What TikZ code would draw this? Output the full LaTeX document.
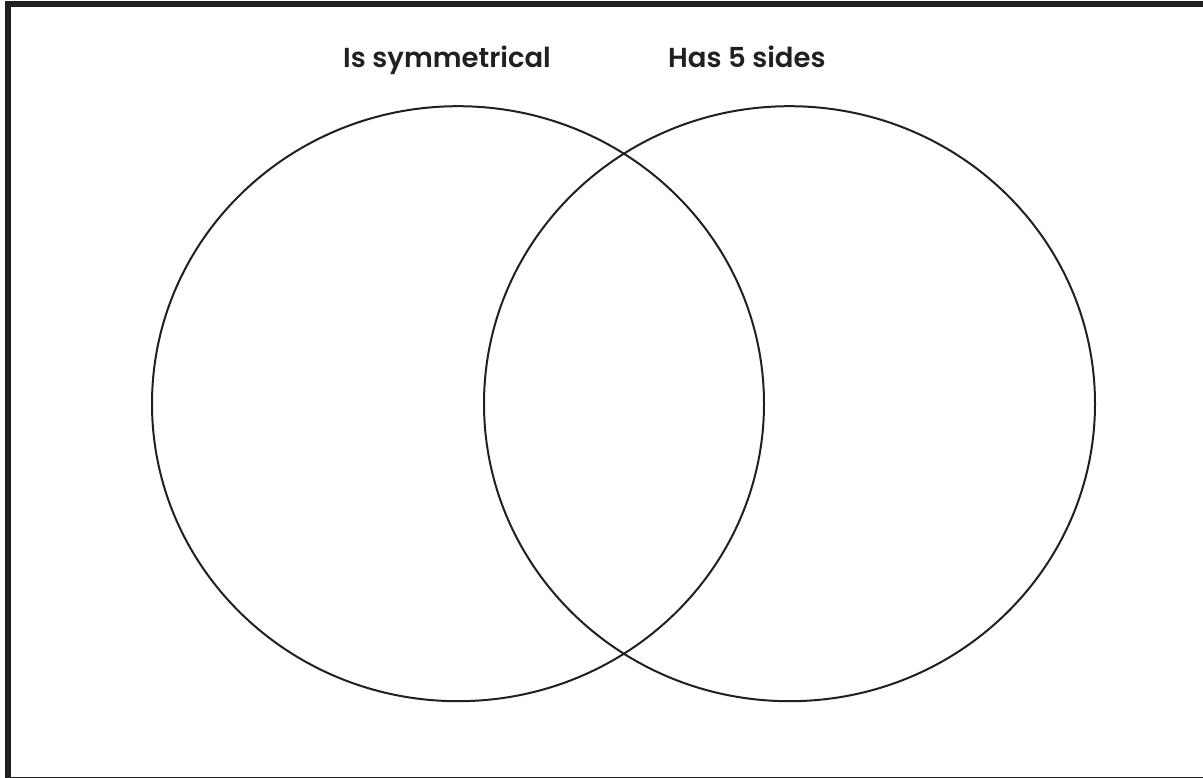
\documentclass[tikz,border=0pt]{standalone}
\usepackage{fontspec}
\newfontfamily\labfont{Poppins}[UprightFont={* SemiBold}]
\definecolor{ink}{HTML}{231F20}
\begin{document}
\begin{tikzpicture}[x=1pt,y=-1pt,
  frame/.style={draw=ink,line width=6pt},
  setcircle/.style={draw=ink,line width=2pt},
  settitle/.style={font=\labfont\fontsize{27.5}{32}\selectfont,text=ink,anchor=base west,inner sep=0pt}]
\useasboundingbox (0,0) rectangle (1203,778);
\draw[frame] (8,4.5) rectangle (1206,780);
\draw[setcircle] (458,403.7) ellipse [x radius=306, y radius=297.5];
\draw[setcircle] (789.5,403.7) ellipse [x radius=305.5, y radius=297.5];
\node[settitle] (t1) at (343,68) {Is symmetrical};
\node[settitle] (t2) at (668,68) {Has 5 sides};
\end{tikzpicture}
\end{document}
